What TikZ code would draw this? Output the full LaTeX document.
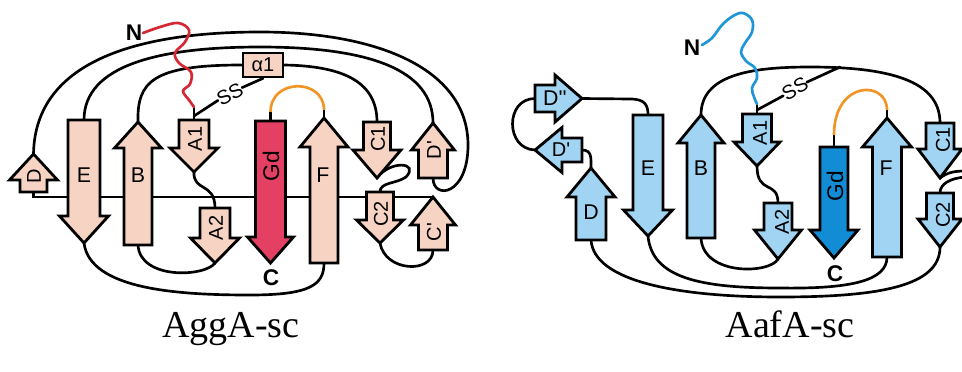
\documentclass[tikz,border=0pt]{standalone}
\usepackage{fontspec}
\setmainfont{Liberation Serif}
\newfontfamily\labfont{Liberation Sans}
\definecolor{peach}{RGB}{247,211,196}
\definecolor{crimson}{RGB}{228,64,100}
\definecolor{lblue}{RGB}{160,212,242}
\definecolor{dblue}{RGB}{18,140,212}
\definecolor{nred}{RGB}{214,40,52}
\definecolor{nblue}{RGB}{30,150,215}
\definecolor{orng}{RGB}{240,150,40}
\pgfdeclarelayer{bg}
\pgfsetlayers{bg,main}
\tikzset{
  strandbox/.style={draw=black, line width=2.1pt, line join=miter, miter limit=10},
  conn/.style={draw=black, line width=2pt, line cap=round},
  lab/.style={font=\labfont\fontsize{16}{16}\selectfont, inner sep=0pt},
  slab/.style={font=\labfont\fontsize{15}{15}\selectfont, inner sep=0pt},
  glab/.style={font=\labfont\fontsize{17}{17}\selectfont, inner sep=0pt},
  bl/.style={font=\labfont\bfseries\fontsize{17}{17}\selectfont, inner sep=0pt},
  sslab/.style={font=\labfont\fontsize{15}{15}\selectfont, inner sep=0pt},
  ttl/.style={font=\fontsize{28.5}{30}\selectfont, inner sep=0pt, anchor=base},
  helix/.style={draw=black, line width=2pt, fill=peach, minimum width=30pt, minimum height=18pt, inner sep=0pt, font=\labfont\fontsize{15}{15}\selectfont}
}
% vertical strand: name, cx, ytail, ybase, ytip, half shaft, half head, fill
\newcommand{\strandv}[8]{%
  \draw[strandbox, fill=#8] ({#2-#6},#3) -- ({#2-#6},#4) -- ({#2-#7},#4) -- (#2,#5) -- ({#2+#7},#4) -- ({#2+#6},#4) -- ({#2+#6},#3) -- cycle;
  \coordinate (#1-t) at (#2,#3);
  \coordinate (#1-h) at (#2,#5);
}
% horizontal strand: name, cy, xtail, xbase, xtip, half shaft, half head, fill
\newcommand{\strandh}[8]{%
  \draw[strandbox, fill=#8] (#3,{#2-#6}) -- (#4,{#2-#6}) -- (#4,{#2-#7}) -- (#5,#2) -- (#4,{#2+#7}) -- (#4,{#2+#6}) -- (#3,{#2+#6}) -- cycle;
  \coordinate (#1-t) at (#3,#2);
  \coordinate (#1-h) at (#5,#2);
}
\begin{document}
\begin{tikzpicture}[x=0.75pt, y=-0.75pt]
\useasboundingbox (0,0) rectangle (962,371);
\clip (0,0) rectangle (962,371);
\begin{pgfonlayer}{bg}
  \fill[white] (0,0) rectangle (962,371);
\end{pgfonlayer}

% ================= LEFT PANEL: AggA-sc =================
\strandv{lD}{33.5}{192}{180}{154}{13.5}{24}{peach}
\strandv{lE}{84}{120}{216}{243}{16}{24.5}{peach}
\strandv{lB}{138}{245}{148}{122}{14}{23.5}{peach}
\strandv{lA1}{194}{120}{148}{172}{15}{24}{peach}
\strandv{lA2}{215}{208}{238}{263}{15}{24.5}{peach}
\strandv{lGd}{270.5}{121}{237}{263}{15}{23}{crimson}
\strandv{lF}{324}{263}{147}{118}{14}{24}{peach}
\strandv{lC1}{377}{122}{150}{178}{13.5}{24}{peach}
\strandv{lC2}{380}{192}{220}{243}{13.5}{23.5}{peach}
\strandv{lDp}{433}{178}{150}{123}{14.5}{21.5}{peach}
\strandv{lCp}{433}{250}{225}{197}{14.5}{22.5}{peach}
\node[helix] (la1) at (263,65) {α1};

\node[lab] (lEl) at (84,175) {E};
\node[lab] (lBl) at (138,175) {B};
\node[lab] (lFl) at (323,175) {F};
\node[slab, rotate=90] (lDl) at (34,176) {D};
\node[slab, rotate=90] (lA1l) at (195,139) {A1};
\node[slab, rotate=90] (lA2l) at (216,228) {A2};
\node[glab, rotate=90] (lGdl) at (271,166) {Gd};
\node[slab, rotate=90] (lC1l) at (378,139) {C1};
\node[slab, rotate=90] (lC2l) at (381,214) {C2};
\node[slab, rotate=90] (lDpl) at (434,150) {D'};
\node[slab, rotate=90] (lCpl) at (434,232) {C'};
\node[bl] (lN) at (134,33) {N};
\node[bl] (lC) at (271,278) {C};
\node[sslab, rotate=28] (lSS) at (230,94) {SS};
\coordinate (lA1s) at (194,107);
\coordinate (lGds) at (270.5,112);
\coordinate (lFs) at (324,110);

\begin{pgfonlayer}{bg}
  % through-line D -> C'
  \draw[conn] (lD-t) |- (lCp-h);
  % D -> D' (outer arc)
  \draw[conn] (lD-h) .. controls (35,60) and (140,32) .. (260,32)
     .. controls (380,32) and (468,70) .. (468,145)
     .. controls (468,196) and (433,200) .. (lDp-t);
  % D' -> E (middle arc)
  \draw[conn] (lE-t) .. controls (84,65) and (160,47) .. (260,47)
     .. controls (370,47) and (433,70) .. (lDp-h);
  % B -> alpha1
  \draw[conn] (lB-h) .. controls (137,82) and (152,65) .. (la1.west);
  % alpha1 -> C1
  \draw[conn] (la1.east) .. controls (340,66) and (377,80) .. (lC1-t);
  % C1 -> C2 loop
  \draw[conn] (lC1-h) .. controls (390,160) and (420,162) .. (406,177)
     .. controls (396,184) and (380,182) .. (lC2-t);
  % C2 -> C'
  \draw[conn] (lC2-h) .. controls (385,272) and (433,274) .. (lCp-t);
  % A1 -> A2
  \draw[conn] (lA1-h) .. controls (193,192) and (215,182) .. (lA2-t);
  % A2 -> B
  \draw[conn] (lA2-h) .. controls (205,277) and (140,280) .. (lB-t);
  % E -> F
  \draw[conn] (lE-h) .. controls (90,290) and (180,295) .. (250,295)
     .. controls (310,295) and (324,285) .. (lF-t);
  % stubs
  \draw[conn] (lA1s) -- (lA1-t);
  \draw[conn] (lGd-t) -- (lGds);
  \draw[conn] (lF-h) -- (lFs);
  % SS bond
  \draw[conn] (194,116) -- (lSS.west);
  \draw[conn] (lSS.east) -- (la1.south);
  % N-terminal
  \draw[nred, line width=2pt, line cap=round] (lN.east) plot[smooth, tension=0.6] coordinates
     {(143,33) (160,27) (178,23) (189,30) (185,42) (175,53) (179,63) (191,72) (190,84) (183,91) (189,100) (194,107)};
  % Gd-F hairpin
  \draw[orng, line width=2pt] (lGds) .. controls (270.5,78) and (324,78) .. (lFs);
\end{pgfonlayer}

% ================= RIGHT PANEL: AafA-sc =================
\strandh{rDpp}{98.5}{535}{555}{582}{13.5}{23.5}{lblue}
\strandh{rDp}{150}{582}{562}{535}{12}{22.5}{lblue}
\strandv{rD}{591}{240}{197}{168}{15}{24}{lblue}
\strandv{rE}{648}{115}{210}{236}{15}{24.5}{lblue}
\strandv{rB}{701}{238}{143}{115}{14}{23}{lblue}
\strandv{rA1}{757}{114}{142}{166}{14.5}{23}{lblue}
\strandv{rA2}{778}{203}{230}{259}{14}{23.5}{lblue}
\strandv{rGd}{834}{147}{230}{258}{14}{24}{dblue}
\strandv{rF}{887}{257}{147}{118}{14.5}{24.5}{lblue}
\strandv{rC1}{940}{123}{149}{178}{14}{22}{lblue}
\strandv{rC2}{940}{193}{219}{247}{13.5}{22}{lblue}

\node[lab] (rEl) at (648,168) {E};
\node[lab] (rBl) at (701,168) {B};
\node[lab] (rFl) at (886,168) {F};
\node[lab] (rDl) at (591,212) {D};
\node[slab] (rDpl) at (561,150) {D'};
\node[lab] (rDppl) at (555,98) {D''};
\node[slab, rotate=90] (rA1l) at (760,133) {A1};
\node[slab, rotate=90] (rA2l) at (782,222) {A2};
\node[glab, rotate=90] (rGdl) at (835,186) {Gd};
\node[slab, rotate=90] (rC1l) at (943,140) {C1};
\node[slab, rotate=90] (rC2l) at (943,215) {C2};
\node[bl] (rN) at (692,48) {N};
\node[bl] (rC) at (835,274) {C};
\node[sslab, rotate=30] (rSS) at (795,89) {SS};
\coordinate (rA1s) at (757,104);
\coordinate (rGds) at (834,135);
\coordinate (rFs) at (887,110);
\coordinate (rSSend) at (840,67);
\coordinate (rC1out) at (966,171);
\coordinate (rC2out) at (966,177);

\begin{pgfonlayer}{bg}
  % D' -> D'' loop
  \draw[conn] (rDp-h) .. controls (505,149) and (505,98.5) .. (rDpp-t);
  % D -> D'
  \draw[conn] (rDp-t) .. controls (592,150) and (591,158) .. (rD-h);
  % D'' -> E
  \draw[conn] (rDpp-h) -- (630,99) .. controls (645,99) and (648,105) .. (rE-t);
  % B -> C1 (top arc)
  \draw[conn] (rB-h) .. controls (701,75) and (750,67) .. (810,67)
     .. controls (900,67) and (940,85) .. (rC1-t);
  % C1, C2 leaving right edge
  \draw[conn] (rC1-h) .. controls (948,172) and (955,171) .. (rC1out);
  \draw[conn] (rC2-t) .. controls (940,184) and (950,178) .. (rC2out);
  % A1 -> A2
  \draw[conn] (rA1-h) .. controls (757,195) and (778,180) .. (rA2-t);
  % A2 -> B
  \draw[conn] (rA2-h) .. controls (770,274) and (703,276) .. (rB-t);
  % E -> F
  \draw[conn] (rE-h) .. controls (652,278) and (700,288) .. (780,288)
     .. controls (850,289) and (887,281) .. (rF-t);
  % C2 -> D (outermost bottom arc)
  \draw[conn] (rD-t) .. controls (594,282) and (680,297) .. (780,297)
     .. controls (880,297) and (940,286) .. (rC2-h);
  % stubs
  \draw[conn] (rA1s) -- (rA1-t);
  \draw[conn] (rGd-t) -- (rGds);
  \draw[conn] (rF-h) -- (rFs);
  % SS bond
  \draw[conn] (757,110) -- (rSS.west);
  \draw[conn] (rSS.east) -- (rSSend);
  % N-terminal
  \draw[nblue, line width=2pt, line cap=round] (rN.east) plot[smooth, tension=0.6] coordinates
     {(702,45) (712,38) (722,25) (733,16) (743,13) (752,20) (752,32) (745,43) (741,52) (746,61) (755,68) (757,78) (752,88) (754,97) (757,104)};
  % Gd-F hairpin
  \draw[orng, line width=2pt] (rGds) .. controls (834,80) and (887,80) .. (rFs);
\end{pgfonlayer}

% titles
\node[ttl] (t1) at (231,337) {AggA-sc};
\node[ttl] (t2) at (790,337) {AafA-sc};
\end{tikzpicture}
\end{document}
